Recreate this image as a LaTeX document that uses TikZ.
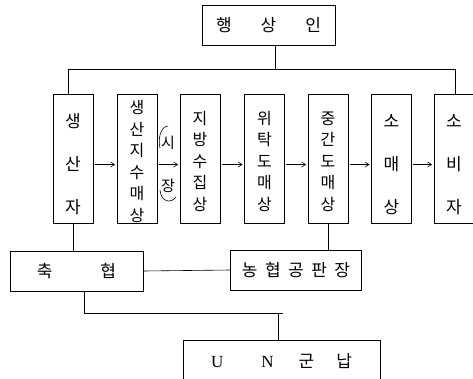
\documentclass[tikz,border=0pt]{standalone}
\usepackage{fontspec}
\setmainfont{Noto Sans CJK KR}
\newfontfamily\latinfont{Liberation Serif}
\usetikzlibrary{arrows.meta}
\newcommand{\toppad}[1]{\rule{0pt}{#1}}
\begin{document}
\begin{tikzpicture}[x=1pt,y=-1pt,
  box/.style={draw, line width=0.8pt, inner sep=0pt, font=\fontsize{17}{19}\selectfont},
  col/.style={box, minimum width=40pt, minimum height=129pt, align=center},
  tight/.style={font=\fontsize{16}{21.5}\selectfont},
  wide/.style={font=\fontsize{17}{43}\selectfont},
  conn/.style={line width=0.6pt},
  arr/.style={line width=0.6pt, -{Straight Barb[length=4pt,width=5pt]}, shorten <=1.5pt, shorten >=1.5pt}
]
\useasboundingbox (0,0) rectangle (473,378);

% top
\node[box, minimum width=133pt, minimum height=40pt] (hang) at (268.5,25) {행\hspace{29pt}상\hspace{29pt}인};

% columns
\node[col, wide]  (sanja)  at (73,158.5)   {\toppad{26pt}생\\산\\자};
\node[col, tight] (suma)   at (137,158.5)  {\toppad{19pt}생\\산\\지\\수\\매\\상};
\node[col, tight] (jibang) at (200,158.5)  {\toppad{19pt}지\\방\\수\\집\\상};
\node[col, tight] (wetak)  at (264.5,158.5){\toppad{19pt}위\\탁\\도\\매\\상};
\node[col, tight] (jungan) at (328,158.5)  {\toppad{19pt}중\\간\\도\\매\\상};
\node[col, wide]  (soma)   at (391.5,158.5){\toppad{26pt}소\\매\\상};
\node[col, wide]  (sobi)   at (454,158.5)  {\toppad{26pt}소\\비\\자};

\node[align=center, inner sep=0pt, font=\fontsize{15}{43}\selectfont] (sijang) at (168,164) {시\\장};

% bottom boxes
\node[box, minimum width=133pt, minimum height=40pt] (chuk) at (76.5,271) {축\hspace{48pt}협};
\node[box, minimum width=131pt, minimum height=40pt] (nong) at (296,270) {농\hspace{7.5pt}협\hspace{7.5pt}공\hspace{7.5pt}판\hspace{7.5pt}장};
\node[box, minimum width=197pt, minimum height=42pt] (un) at (281.5,361) {{\latinfont U\hspace{38pt}N}\hspace{25pt}군\hspace{22pt}납};

% connectors top
\coordinate (t1) at (68,69);
\coordinate (t2) at (455,69);
\coordinate (t3) at (275,69);
\draw[conn] (t3 |- hang.south) -- (t3);
\draw[conn] (t1 |- sanja.north) -- (t1) -- (t2) -- (t2 |- sobi.north);

% arrows
\draw[arr] ([yshift=-6pt]sanja.east) -- ([yshift=-6pt]suma.west);
\draw[arr] ([yshift=-6pt]suma.east) -- ([yshift=-6pt]jibang.west);
\draw[arr] ([yshift=-6pt]jibang.east) -- ([yshift=-6pt]wetak.west);
\draw[arr] ([yshift=-6pt]wetak.east) -- ([yshift=-6pt]jungan.west);
\draw[arr] ([yshift=-6pt]jungan.east) -- ([yshift=-6pt]soma.west);
\draw[arr] ([yshift=-6pt]soma.east) -- ([yshift=-6pt]sobi.west);

% parentheses around (시장)
\draw[conn] (168,126) .. controls (160,127) and (158,139) .. (160,148);
\draw[conn] (160,190) .. controls (161,202) and (171,204) .. (176,197);

% bottom connectors
\draw[conn] (sanja.south) -- (sanja.south |- chuk.north);
\draw[conn] (jungan.south) -- (jungan.south |- nong.north);
\draw[conn] (chuk.east) -- (nong.west);
\coordinate (j2) at (84,313);
\coordinate (j3) at (283,313);
\coordinate (j4) at (278,313);
\draw[conn] (chuk.south -| j2) -- (j2) -- (j3);
\draw[conn] (j4) -- (j4 |- un.north);
\end{tikzpicture}
\end{document}
